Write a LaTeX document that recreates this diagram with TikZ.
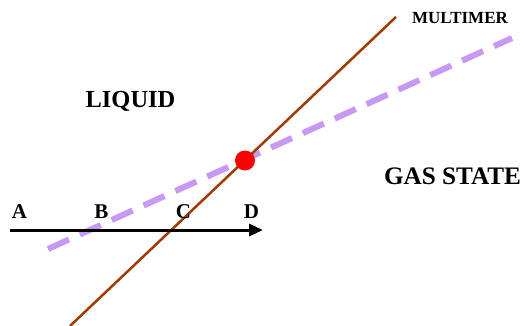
\documentclass[tikz,border=0pt]{standalone}
\usepackage{fontspec}
\setmainfont{Liberation Serif}
\usetikzlibrary{arrows.meta}
\definecolor{lav}{RGB}{200,152,245}
\definecolor{rust}{RGB}{160,58,0}
\tikzset{
  lbl/.style={font=\bfseries\fontsize{21}{23}\selectfont, inner sep=0pt},
  region/.style={font=\bfseries\fontsize{24.5}{27}\selectfont, inner sep=0pt},
  small/.style={font=\bfseries\fontsize{17}{19}\selectfont, inner sep=0pt},
  dashline/.style={lav, line width=6pt, dash pattern=on 23pt off 12pt},
  phaseline/.style={rust, line width=2.5pt},
  axis/.style={black, line width=3pt, -{Triangle[length=14pt,width=12pt]}},
  dot/.style={circle, fill=red, minimum size=20pt, inner sep=0pt}
}
\begin{document}
\begin{tikzpicture}[x=1pt,y=-1pt]
\useasboundingbox (0,0) rectangle (524,326);
\coordinate (dl) at (48,249);
\coordinate (dr) at (512,38);
\coordinate (pl) at (70,326);
\coordinate (pu) at (396,17);
\coordinate (as) at (10,230);
\coordinate (ae) at (263,230);
\draw[dashline] (dl) -- (dr);
\draw[phaseline] (pl) -- (pu);
\draw[axis] (as) -- (ae);
\node[dot] (crit) at (245,160.5) {};
\node[lbl] (A) at (19.5,211.5) {A};
\node[lbl] (B) at (101.5,211.5) {B};
\node[lbl] (C) at (183.5,211.5) {C};
\node[lbl] (D) at (251.5,211.5) {D};
\node[region] (liq) at (130.5,101) {LIQUID};
\node[region] (gas) at (452.5,176.5) {\fontsize{25.2}{27}\selectfont GAS STATE};
\node[small] (mult) at (460,18.5) {MULTIMER};
\end{tikzpicture}
\end{document}
